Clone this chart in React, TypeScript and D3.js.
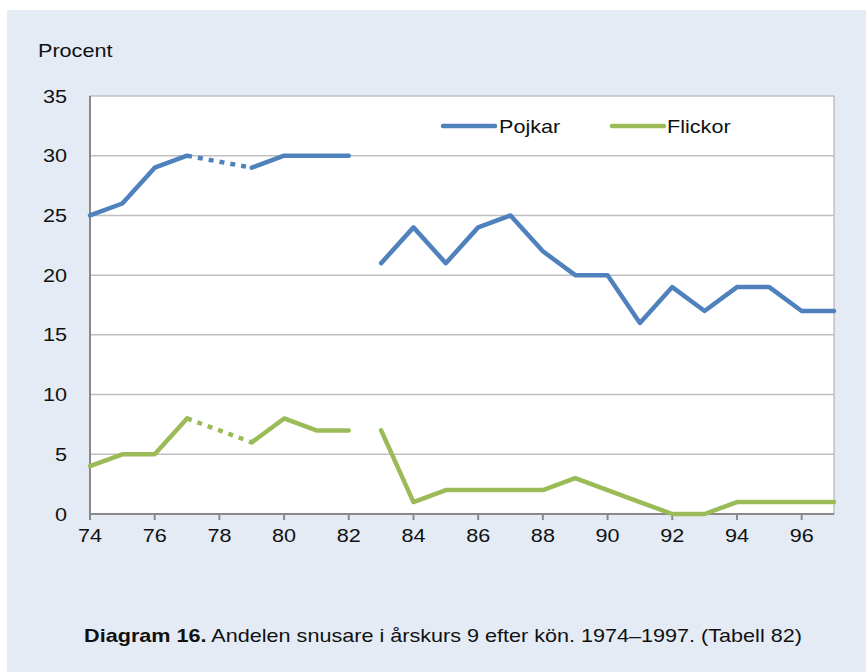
import { useEffect, useRef } from "react";
import * as d3 from "d3";

const years = d3.range(1974, 1998);
// null = no data (gaps)
const pojkar: (number | null)[] = [25, 26, 29, 30, null, 29, 30, 30, 30, 21, 24, 21, 24, 25, 22, 20, 20, 16, 19, 17, 19, 19, 17, 17];
const flickor: (number | null)[] = [4, 5, 5, 8, null, 6, 8, 7, 7, 7, 1, 2, 2, 2, 2, 3, 2, 1, 0, 0, 1, 1, 1, 1];
// series break after 1982
const breakAfter = 1982;
const yTicks = [0, 5, 10, 15, 20, 25, 30, 35];
const xTicks = d3.range(1974, 1998, 2);

const series = [
  { name: "Pojkar", values: pojkar, color: "#4F81BD" },
  { name: "Flickor", values: flickor, color: "#9BBB59" },
];

const App = () => {
  const ref = useRef<SVGSVGElement>(null);

  useEffect(() => {
    const W = 866, H = 672;
    const m = { top: 96, right: 32, bottom: 158, left: 90 };
    const svg = d3.select(ref.current).attr("width", W).attr("height", H);
    svg.selectAll("*").remove();
    const font = "Liberation Sans, Arial, sans-serif";
    const sx = 1.2;

    // text is slightly stretched horizontally in the original
    const label = (px: number, py: number, anchor: string) =>
      svg.append("text")
        .attr("transform", `translate(${px},${py}) scale(${sx},1)`)
        .attr("text-anchor", anchor)
        .attr("font-family", font).attr("font-size", 18).attr("fill", "#111");

    svg.append("rect").attr("x", 7).attr("y", 10).attr("width", W - 7).attr("height", H - 10).attr("fill", "#E4EBF5");

    const x = d3.scaleLinear().domain([1974, 1997]).range([m.left, W - m.right]);
    const y = d3.scaleLinear().domain([0, 35]).range([H - m.bottom, m.top]);

    svg.append("rect")
      .attr("x", x(1974)).attr("y", y(35))
      .attr("width", x(1997) - x(1974)).attr("height", y(0) - y(35))
      .attr("fill", "white").attr("stroke", "#A6A6A6").attr("stroke-width", 1);

    svg.append("g").selectAll("line").data(yTicks.slice(1, -1)).join("line")
      .attr("x1", x(1974)).attr("x2", x(1997))
      .attr("y1", d => y(d)).attr("y2", d => y(d))
      .attr("stroke", "#BFBFBF").attr("stroke-width", 1.5);

    // axes
    const ax = svg.append("g").attr("stroke", "#898989").attr("stroke-width", 2);
    ax.append("line").attr("x1", x(1974)).attr("x2", x(1974)).attr("y1", y(35)).attr("y2", y(0) + 6);
    ax.append("line").attr("x1", x(1974)).attr("x2", x(1997)).attr("y1", y(0)).attr("y2", y(0));
    ax.selectAll(".t").data(xTicks.slice(1)).join("line")
      .attr("x1", d => x(d)).attr("x2", d => x(d)).attr("y1", y(0)).attr("y2", y(0) + 6);

    yTicks.forEach(d => label(67, y(d) + 6.5, "end").text(d));
    xTicks.forEach(d => label(x(d), y(0) + 28, "middle").text(String(d).slice(2)));

    label(38, 57, "start").text("Procent");

    const line = d3.line<[number, number]>().x(d => x(d[0])).y(d => y(d[1]));

    series.forEach(s => {
      const pts = years.map((yr, i) => [yr, s.values[i]] as [number, number | null]);
      const solidA = pts.filter(p => p[1] !== null && p[0] <= breakAfter) as [number, number][];
      const solidB = pts.filter(p => p[1] !== null && p[0] > breakAfter) as [number, number][];
      // split first segment at the missing year, bridged by a dotted line
      const gapYear = pts[pts.findIndex(p => p[1] === null)][0];
      const before = solidA.filter(p => p[0] < gapYear);
      const after = solidA.filter(p => p[0] > gapYear);
      const dotted = [before[before.length - 1], after[0]];

      [before, after, solidB].forEach(seg => {
        svg.append("path").datum(seg).attr("d", line)
          .attr("fill", "none").attr("stroke", s.color).attr("stroke-width", 4.5)
          .attr("stroke-linejoin", "round").attr("stroke-linecap", "round");
      });
      svg.append("path").datum(dotted).attr("d", line)
        .attr("fill", "none").attr("stroke", s.color).attr("stroke-width", 4.5)
        .attr("stroke-dasharray", "5,6");
    });

    // legend
    const leg = [
      { s: series[0], x0: 443, x1: 495, tx: 499 },
      { s: series[1], x0: 612, x1: 664, tx: 667 },
    ];
    leg.forEach(l => {
      svg.append("line").attr("x1", l.x0).attr("x2", l.x1).attr("y1", 126).attr("y2", 126)
        .attr("stroke", l.s.color).attr("stroke-width", 4.5).attr("stroke-linecap", "round");
      label(l.tx, 132.5, "start").text(l.s.name);
    });

    const cap = label(443, 642, "middle");
    cap.append("tspan").attr("font-weight", "bold").text("Diagram 16.");
    cap.append("tspan").text(" Andelen snusare i årskurs 9 efter kön. 1974–1997. (Tabell 82)");
  }, []);

  return <svg ref={ref} style={{ position: "absolute", left: 0, top: 0, display: "block" }} />;
};

export default App;
